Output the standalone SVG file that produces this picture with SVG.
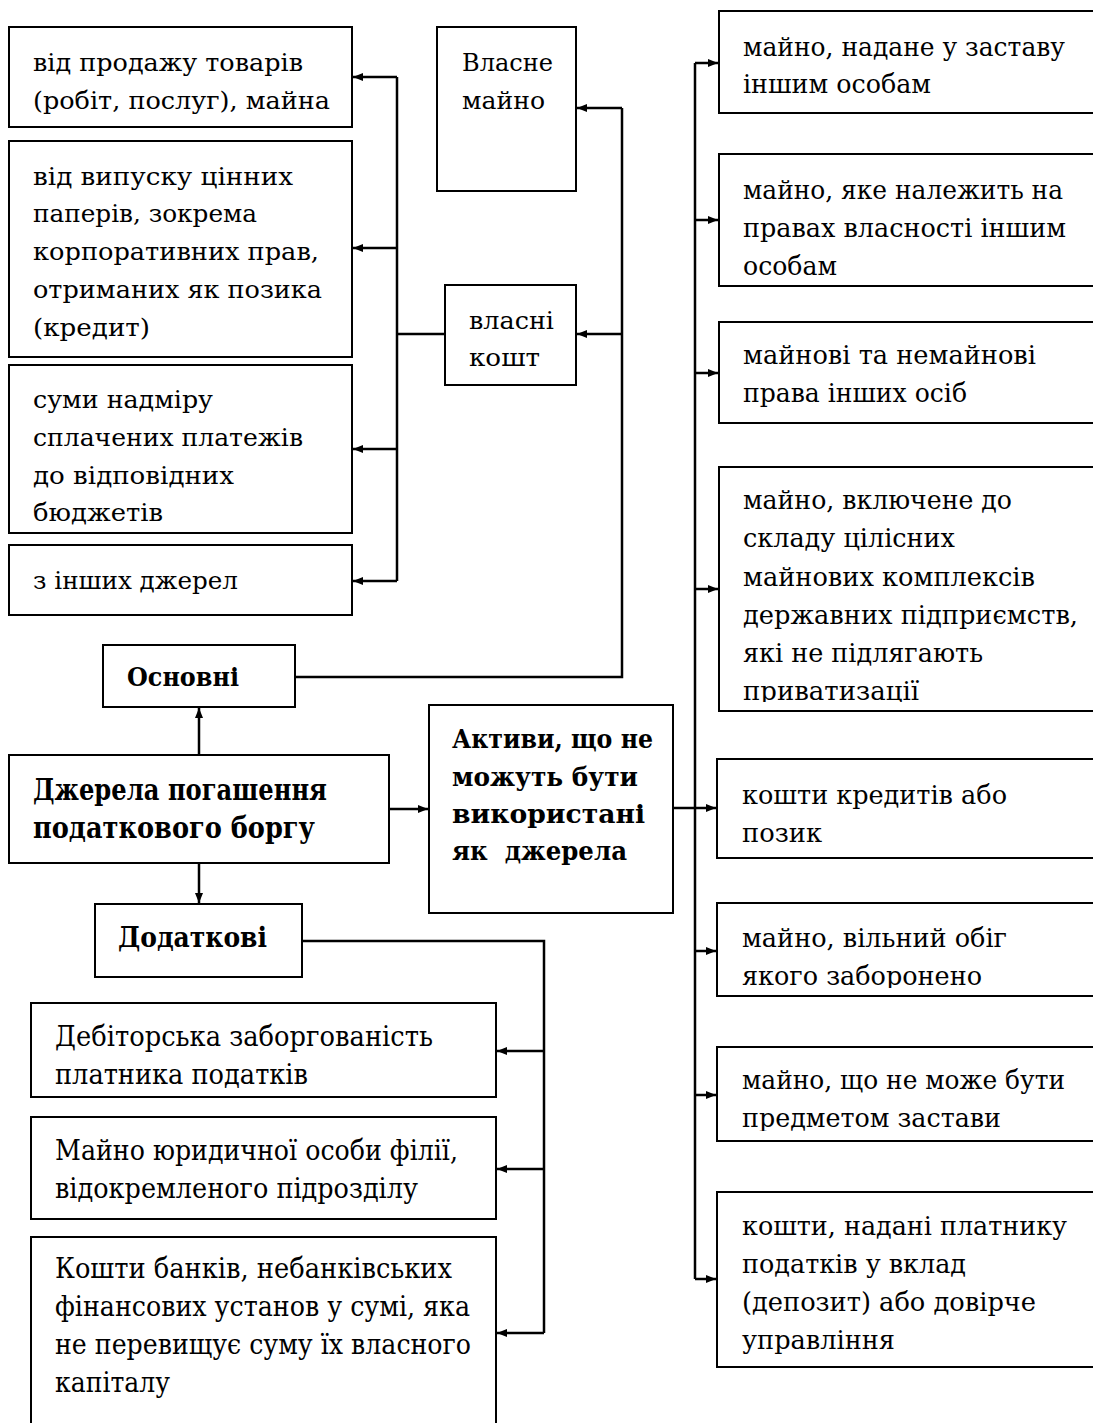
<svg xmlns="http://www.w3.org/2000/svg" width="1093" height="1423" viewBox="0 0 1093 1423">
<style>
.box{fill:#fff;stroke:#000;stroke-width:2}
.ln{fill:none;stroke:#000;stroke-width:2.5}
.t{font-family:"DejaVu Serif","Liberation Serif",serif;fill:#000}
.s25{font-size:25px}
.s26{font-size:26px}
.s27{font-size:27px}
.b{font-weight:bold}
</style>
<defs>
<marker id="ah" markerUnits="userSpaceOnUse" markerWidth="10" markerHeight="8" refX="10" refY="4" orient="auto">
<path d="M0,0 L10,4 L0,8 z" fill="#000"/>
</marker>
<clipPath id="c4"><rect x="700" y="460" width="400" height="242"/></clipPath>
<clipPath id="c6"><rect x="700" y="900" width="400" height="88"/></clipPath>
<clipPath id="c7"><rect x="700" y="1040" width="400" height="91"/></clipPath>
</defs>
<rect width="1093" height="1423" fill="#fff"/>

<g id="connectors">
<path class="ln" d="M397,77 V581"/>
<path class="ln" marker-end="url(#ah)" d="M397,77 H353"/>
<path class="ln" marker-end="url(#ah)" d="M397,248 H353"/>
<path class="ln" marker-end="url(#ah)" d="M397,449 H353"/>
<path class="ln" marker-end="url(#ah)" d="M397,581 H353"/>
<path class="ln" d="M397,334 H445"/>
<path class="ln" d="M295,677 H622 V108"/>
<path class="ln" marker-end="url(#ah)" d="M622,108 H577"/>
<path class="ln" marker-end="url(#ah)" d="M622,334 H577"/>
<path class="ln" marker-end="url(#ah)" d="M199,755 V708"/>
<path class="ln" marker-end="url(#ah)" d="M199,863 V903"/>
<path class="ln" marker-end="url(#ah)" d="M389,809 H428"/>
<path class="ln" d="M673,808 H695"/>
<path class="ln" d="M695,63 V1279"/>
<path class="ln" marker-end="url(#ah)" d="M695,63 H718"/>
<path class="ln" marker-end="url(#ah)" d="M695,220 H718"/>
<path class="ln" marker-end="url(#ah)" d="M695,373 H718"/>
<path class="ln" marker-end="url(#ah)" d="M695,589 H718"/>
<path class="ln" marker-end="url(#ah)" d="M695,808 H716"/>
<path class="ln" marker-end="url(#ah)" d="M695,951 H716"/>
<path class="ln" marker-end="url(#ah)" d="M695,1095 H716"/>
<path class="ln" marker-end="url(#ah)" d="M695,1279 H716"/>
<path class="ln" d="M302,941 H544 V1333"/>
<path class="ln" marker-end="url(#ah)" d="M544,1051 H497"/>
<path class="ln" marker-end="url(#ah)" d="M544,1169 H497"/>
<path class="ln" marker-end="url(#ah)" d="M544,1333 H497"/>
</g>

<g id="n-prodazh">
<rect class="box" x="9" y="27" width="343" height="100"/>
<text class="t s25" x="33" y="71" textLength="270" lengthAdjust="spacingAndGlyphs">від продажу товарів</text>
<text class="t s25" x="33" y="109" textLength="297" lengthAdjust="spacingAndGlyphs">(робіт, послуг), майна</text>
</g>
<g id="n-vypusk">
<rect class="box" x="9" y="141" width="343" height="216"/>
<text class="t s25" x="33" y="185" textLength="260" lengthAdjust="spacingAndGlyphs">від випуску цінних</text>
<text class="t s25" x="33" y="222" textLength="224" lengthAdjust="spacingAndGlyphs">паперів, зокрема</text>
<text class="t s25" x="33" y="260" textLength="286" lengthAdjust="spacingAndGlyphs">корпоративних прав,</text>
<text class="t s25" x="33" y="298" textLength="289" lengthAdjust="spacingAndGlyphs">отриманих як позика</text>
<text class="t s25" x="33" y="336" textLength="117" lengthAdjust="spacingAndGlyphs">(кредит)</text>
</g>
<g id="n-sumy">
<rect class="box" x="9" y="365" width="343" height="168"/>
<text class="t s25" x="33" y="408" textLength="180" lengthAdjust="spacingAndGlyphs">суми надміру</text>
<text class="t s25" x="33" y="446" textLength="270" lengthAdjust="spacingAndGlyphs">сплачених платежів</text>
<text class="t s25" x="33" y="484" textLength="201" lengthAdjust="spacingAndGlyphs">до відповідних</text>
<text class="t s25" x="33" y="521" textLength="130" lengthAdjust="spacingAndGlyphs">бюджетів</text>
</g>
<g id="n-inshi">
<rect class="box" x="9" y="545" width="343" height="70"/>
<text class="t s25" x="33" y="589" textLength="205" lengthAdjust="spacingAndGlyphs">з інших джерел</text>
</g>
<g id="n-vlasne-mayno">
<rect class="box" x="437" y="27" width="139" height="164"/>
<text class="t s25" x="462" y="71" textLength="91" lengthAdjust="spacingAndGlyphs">Власне</text>
<text class="t s25" x="462" y="109" textLength="83" lengthAdjust="spacingAndGlyphs">майно</text>
</g>
<g id="n-vlasni-kosht">
<rect class="box" x="445" y="285" width="131" height="100"/>
<text class="t s25" x="469" y="329" textLength="85" lengthAdjust="spacingAndGlyphs">власні</text>
<text class="t s25" x="469" y="366" textLength="71" lengthAdjust="spacingAndGlyphs">кошт</text>
</g>
<g id="n-osnovni">
<rect class="box" x="103" y="645" width="192" height="62"/>
<text class="t b" font-size="26" x="127" y="686" textLength="112" lengthAdjust="spacingAndGlyphs">Основні</text>
</g>
<g id="n-dzherela">
<rect class="box" x="9" y="755" width="380" height="108"/>
<text class="t b" font-size="30" x="33" y="800" textLength="294" lengthAdjust="spacingAndGlyphs">Джерела погашення</text>
<text class="t b" font-size="30" x="33" y="838" textLength="282" lengthAdjust="spacingAndGlyphs">податкового боргу</text>
</g>
<g id="n-aktyvy">
<rect class="box" x="429" y="705" width="244" height="208"/>
<text class="t b" font-size="26" x="452" y="748" textLength="201" lengthAdjust="spacingAndGlyphs">Активи, що не</text>
<text class="t b" font-size="26" x="452" y="786" textLength="186" lengthAdjust="spacingAndGlyphs">можуть бути</text>
<text class="t b" font-size="26" x="452" y="823" textLength="193" lengthAdjust="spacingAndGlyphs">використані</text>
<text class="t b" font-size="26" x="452" y="860" textLength="175" lengthAdjust="spacingAndGlyphs" xml:space="preserve">як  джерела</text>
</g>
<g id="n-dodatkovi">
<rect class="box" x="95" y="904" width="207" height="73"/>
<text class="t b" font-size="27" x="118" y="947" textLength="149" lengthAdjust="spacingAndGlyphs">Додаткові</text>
</g>
<g id="n-debitor">
<rect class="box" x="31" y="1003" width="465" height="94"/>
<text class="t s27" x="55" y="1046" textLength="378" lengthAdjust="spacingAndGlyphs">Дебіторська заборгованість</text>
<text class="t s27" x="55" y="1084" textLength="253" lengthAdjust="spacingAndGlyphs">платника податків</text>
</g>
<g id="n-mayno-yur">
<rect class="box" x="31" y="1117" width="465" height="102"/>
<text class="t s27" x="55" y="1160" textLength="403" lengthAdjust="spacingAndGlyphs">Майно юридичної особи філії,</text>
<text class="t s27" x="55" y="1198" textLength="363" lengthAdjust="spacingAndGlyphs">відокремленого підрозділу</text>
</g>
<g id="n-koshty-bankiv">
<rect class="box" x="31" y="1237" width="465" height="220"/>
<text class="t s27" x="55" y="1278" textLength="397" lengthAdjust="spacingAndGlyphs">Кошти банків, небанківських</text>
<text class="t s27" x="55" y="1316" textLength="415" lengthAdjust="spacingAndGlyphs">фінансових установ у сумі, яка</text>
<text class="t s27" x="55" y="1354" textLength="416" lengthAdjust="spacingAndGlyphs">не перевищує суму їх власного</text>
<text class="t s27" x="55" y="1392" textLength="115" lengthAdjust="spacingAndGlyphs">капіталу</text>
</g>

<g id="r1">
<rect class="box" x="719" y="11" width="400" height="102"/>
<text class="t s26" x="743" y="56" textLength="322" lengthAdjust="spacingAndGlyphs">майно, надане у заставу</text>
<text class="t s26" x="743" y="93" textLength="188" lengthAdjust="spacingAndGlyphs">іншим особам</text>
</g>
<g id="r2">
<rect class="box" x="719" y="154" width="400" height="132"/>
<text class="t s26" x="743" y="199" textLength="320" lengthAdjust="spacingAndGlyphs">майно, яке належить на</text>
<text class="t s26" x="743" y="237" textLength="323" lengthAdjust="spacingAndGlyphs">правах власності іншим</text>
<text class="t s26" x="743" y="275" textLength="94" lengthAdjust="spacingAndGlyphs">особам</text>
</g>
<g id="r3">
<rect class="box" x="719" y="322" width="400" height="101"/>
<text class="t s26" x="743" y="364" textLength="293" lengthAdjust="spacingAndGlyphs">майнові та немайнові</text>
<text class="t s26" x="743" y="402" textLength="224" lengthAdjust="spacingAndGlyphs">права інших осіб</text>
</g>
<g id="r4">
<rect class="box" x="719" y="467" width="400" height="244"/>
<g clip-path="url(#c4)">
<text class="t s26" x="743" y="509" textLength="269" lengthAdjust="spacingAndGlyphs">майно, включене до</text>
<text class="t s26" x="743" y="547" textLength="212" lengthAdjust="spacingAndGlyphs">складу цілісних</text>
<text class="t s26" x="743" y="586" textLength="292" lengthAdjust="spacingAndGlyphs">майнових комплексів</text>
<text class="t s26" x="743" y="624" textLength="335" lengthAdjust="spacingAndGlyphs">державних підприємств,</text>
<text class="t s26" x="743" y="662" textLength="240" lengthAdjust="spacingAndGlyphs">які не підлягають</text>
<text class="t s26" x="743" y="700" textLength="176" lengthAdjust="spacingAndGlyphs">приватизації</text>
</g>
</g>
<g id="r5">
<rect class="box" x="717" y="759" width="400" height="99"/>
<text class="t s26" x="742" y="804" textLength="265" lengthAdjust="spacingAndGlyphs">кошти кредитів або</text>
<text class="t s26" x="742" y="842" textLength="80" lengthAdjust="spacingAndGlyphs">позик</text>
</g>
<g id="r6">
<rect class="box" x="717" y="903" width="400" height="93"/>
<g clip-path="url(#c6)">
<text class="t s26" x="742" y="947" textLength="265" lengthAdjust="spacingAndGlyphs">майно, вільний обіг</text>
<text class="t s26" x="742" y="985" textLength="240" lengthAdjust="spacingAndGlyphs">якого заборонено</text>
</g>
</g>
<g id="r7">
<rect class="box" x="717" y="1047" width="400" height="94"/>
<g clip-path="url(#c7)">
<text class="t s26" x="742" y="1089" textLength="323" lengthAdjust="spacingAndGlyphs">майно, що не може бути</text>
<text class="t s26" x="742" y="1127" textLength="259" lengthAdjust="spacingAndGlyphs">предметом застави</text>
</g>
</g>
<g id="r8">
<rect class="box" x="717" y="1192" width="400" height="175"/>
<text class="t s26" x="742" y="1235" textLength="325" lengthAdjust="spacingAndGlyphs">кошти, надані платнику</text>
<text class="t s26" x="742" y="1273" textLength="224" lengthAdjust="spacingAndGlyphs">податків у вклад</text>
<text class="t s26" x="742" y="1311" textLength="294" lengthAdjust="spacingAndGlyphs">(депозит) або довірче</text>
<text class="t s26" x="742" y="1349" textLength="153" lengthAdjust="spacingAndGlyphs">управління</text>
</g>
</svg>
